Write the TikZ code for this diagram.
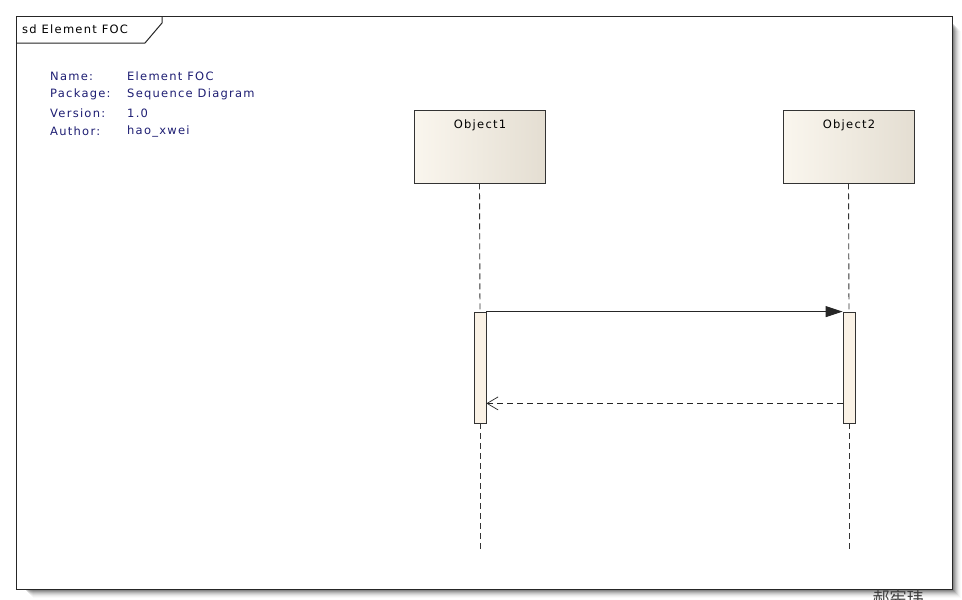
\documentclass[tikz,border=0pt]{standalone}
\usepackage{fontspec}
\setmainfont{DejaVu Sans}[LetterSpace=11]
\newfontfamily\cjk{Noto Sans CJK SC}
\usetikzlibrary{arrows.meta}
\definecolor{infoblue}{RGB}{30,30,115}
\definecolor{boxleft}{RGB}{250,246,238}
\definecolor{boxright}{RGB}{228,222,210}
\definecolor{actfill}{RGB}{250,242,230}
\tikzset{
  objbox/.style={draw=black!80, line width=0.9pt, left color=boxleft, right color=boxright, minimum width=131pt, minimum height=73pt, inner sep=0pt},
  objlabel/.style={font=\fontsize{11.5}{13}\selectfont, inner sep=0pt},
  actbar/.style={draw=black!80, line width=0.8pt, fill=actfill, minimum width=12pt, minimum height=111pt, inner sep=0pt},
  lifeline/.style={black!80, line width=0.9pt, dash pattern=on 6pt off 4pt},
  msg/.style={black!85, line width=0.9pt, -{Triangle[length=17pt,width=11pt]}},
  ret/.style={black!85, line width=0.9pt, dash pattern=on 6pt off 4pt, -{Straight Barb[length=11pt,width=13pt,line width=0.7pt]}},
  infotext/.style={text=infoblue, font=\fontsize{11.5}{13}\selectfont, anchor=west, inner sep=0pt},
  frameline/.style={draw=black!85, line width=1pt},
}
\begin{document}
\begin{tikzpicture}[x=1pt,y=-1pt]
\useasboundingbox (0,0) rectangle (962,600);
\clip (0,0) rectangle (962,600);
\fill[white] (0,0) rectangle (962,600);
% frame shadow
\foreach \i/\o in {1/0.16,2/0.14,3/0.12,4/0.10,5/0.08,6/0.06,7/0.04,8/0.03,9/0.02} {
  \fill[black, opacity=\o] (16+\i+8,16+\i+6) rectangle (952+\i,589+\i);
}
\fill[white] (16,16) rectangle (952,589);
\draw[frameline] (16,16) rectangle (952,589);
% tab
\draw[frameline] (16,43) -- (145,43) -- (162,23) -- (162,16);
\node[anchor=west, inner sep=0pt, font=\fontsize{11.5}{13}\selectfont] (title) at (22,29.5) {sd Element FOC};
% info
\node[infotext] (n1) at (50,76) {Name:};
\node[infotext] (v1) at (127,76) {Element FOC};
\node[infotext] (n2) at (50,94.5) {Package:};
\node[infotext] (v2) at (127,94.5) {Sequence Diagram};
\node[infotext] (n3) at (50,113) {Version:};
\node[infotext] (v3) at (127,113) {1.0};
\node[infotext] (n4) at (50,131) {Author:};
\node[infotext] (v4) at (127,131) {hao\_xwei};
% objects
\node[objbox] (o1) at (479.5,146.5) {};
\node[objbox] (o2) at (848.5,146.5) {};
\node[objlabel] (l1) at (480,125) {Object1};
\node[objlabel] (l2) at (849,125) {Object2};
\coordinate (e1) at (480,553);
\coordinate (e2) at (849,553);
% activations
\node[actbar] (a1) at (480,367.5) {};
\node[actbar] (a2) at (849,367.5) {};
% lifelines
\draw[lifeline] (o1.south) -- (a1.north);
\draw[lifeline] (a1.south) -- (e1);
\draw[lifeline] (o2.south) -- (a2.north);
\draw[lifeline] (a2.south) -- (e2);
% messages
\draw[msg] (a1.north east) -- (a2.north west);
\coordinate (r2) at ([yshift=20pt]a2.south west);
\coordinate (r1) at ([yshift=20pt]a1.south east);
\draw[ret] (r2) -- (r1);
% watermark
\node[anchor=north, inner sep=0pt, font=\cjk\fontsize{17}{17}\selectfont, text=black!75] (wm) at (898,590) {郝宪玮};
\end{tikzpicture}
\end{document}
